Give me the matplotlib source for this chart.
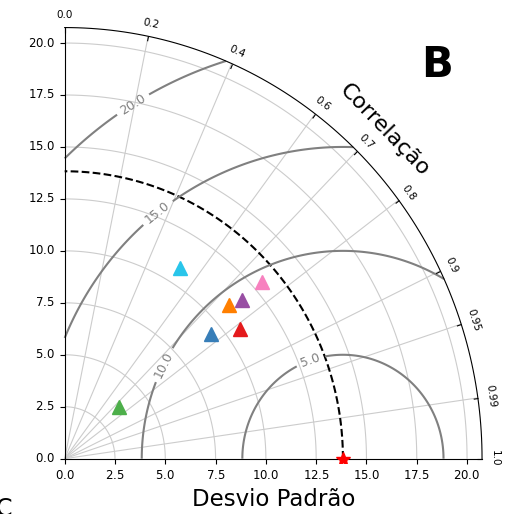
import numpy as np
import matplotlib.pyplot as plt
from matplotlib.projections import PolarAxes
import mpl_toolkits.axisartist.floating_axes as fa
import mpl_toolkits.axisartist.grid_finder as gf

# reference standard deviation and model statistics
ref_std = 13.83
model_std = [9.45, 11.02, 3.69, 10.73, 11.67, 12.99, 10.82]
model_corr = [0.771, 0.742, 0.737, 0.814, 0.757, 0.755, 0.531]
model_colors = ['#377eb8', '#ff7f00', '#4daf4a', '#e41a1c', '#984ea3', '#f781bf', '#29c5ea']

corr_ticks = [0.0, 0.2, 0.4, 0.6, 0.7, 0.8, 0.9, 0.95, 0.99, 1.0]
rms_levels = [5, 10, 15, 20]

fig = plt.figure(figsize=(5.06, 5.14), dpi=100)

tr = PolarAxes.PolarTransform(apply_theta_transforms=False)
tlocs = np.arccos(corr_ticks)
gl1 = gf.FixedLocator(tlocs)
tf1 = gf.DictFormatter(dict(zip(tlocs, map(str, corr_ticks))))

smax = 1.5 * ref_std
gh = fa.GridHelperCurveLinear(tr, extremes=(0, np.pi / 2, 0, smax),
                              grid_locator1=gl1, tick_formatter1=tf1)
ax = fig.add_axes([0.1196, 0.099, 0.8413, 0.856],
                  axes_class=fa.FloatingAxes, grid_helper=gh)
ax.set_aspect(1.033)

# correlation arc
ax.axis["top"].set_axis_direction("bottom")
ax.axis["top"].toggle(ticklabels=True, label=True)
ax.axis["top"].major_ticklabels.set_axis_direction("top")
ax.axis["top"].label.set_axis_direction("top")
ax.axis["top"].label.set_text("Correlação")
ax.axis["top"].label.set_fontsize(16)
ax.axis["top"].major_ticklabels.set_fontsize(7.5)
ax.axis["top"].major_ticklabels.set_pad(7)

# x axis
ax.axis["left"].set_axis_direction("bottom")
ax.axis["left"].label.set_text("Desvio Padrão")
ax.axis["left"].label.set_fontsize(16.5)
ax.axis["left"].major_ticklabels.set_fontsize(8.5)
ax.axis["left"].major_ticks.set_tick_out(True)

# y axis
ax.axis["right"].set_axis_direction("top")
ax.axis["right"].toggle(ticklabels=True)
ax.axis["right"].major_ticklabels.set_axis_direction("left")
ax.axis["right"].major_ticklabels.set_fontsize(8.5)
ax.axis["right"].major_ticks.set_tick_out(True)

ax.axis["bottom"].set_visible(False)

ax.grid(True, color='0.8', linewidth=0.8)

aux = ax.get_aux_axes(tr)

# reference point and arc
aux.plot([0], [ref_std], 'r*', ms=10, zorder=5)
t = np.linspace(0, np.pi / 2, 100)
aux.plot(t, np.full_like(t, ref_std), 'k--', lw=1.5)

for s, c, col in zip(model_std, model_corr, model_colors):
    aux.plot(np.arccos(c), s, '^', color=col, ms=10, zorder=4)

# centered RMS difference contours
rs, ts = np.meshgrid(np.linspace(0, smax, 200), np.linspace(0, np.pi / 2, 200))
rms = np.sqrt(ref_std**2 + rs**2 - 2 * ref_std * rs * np.cos(ts))
cs = aux.contour(ts, rs, rms, rms_levels, colors='0.5', linewidths=1.5)
aux.clabel(cs, inline=1, fontsize=9, fmt='%.1f',
           manual=[(0.372, 13.1), (0.745, 6.67), (1.21, 12.79), (1.377, 17.43)])

fig.text(437 / 506, 1 - 65 / 514, 'B', fontsize=30, weight='bold',
         ha='center', va='center')
fig.text(-0.008, 1 - 497 / 514, 'C', fontsize=17, va='top', ha='left')

fig.savefig('out.png', dpi=100)
